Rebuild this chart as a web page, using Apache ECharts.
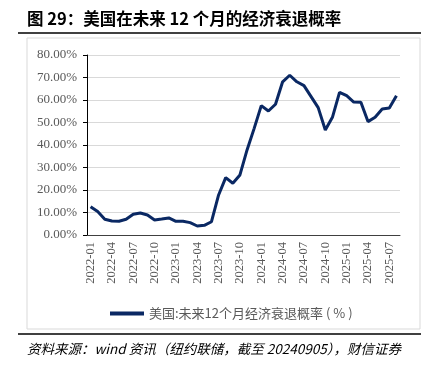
<!DOCTYPE html>
<html>
<head>
<meta charset="utf-8">
<script src="https://cdn.jsdelivr.net/npm/echarts@6/dist/echarts.min.js"></script>
<style>
html,body{margin:0;padding:0;background:#fff;}
#c{width:429px;height:371px;}
</style>
</head>
<body>
<div id="c"></div>
<script>
const titleText = '图 29：美国在未来 12 个月的经济衰退概率';
const sourceText = '资料来源：wind 资讯（纽约联储，截至 20240905），财信证券';
const seriesName = '美国:未来12个月经济衰退概率 ( % )';
const yTicks = [0, 10, 20, 30, 40, 50, 60, 70, 80];
const categories = [
 '2022-01','2022-02','2022-03','2022-04','2022-05','2022-06','2022-07','2022-08','2022-09','2022-10','2022-11','2022-12',
 '2023-01','2023-02','2023-03','2023-04','2023-05','2023-06','2023-07','2023-08','2023-09','2023-10','2023-11','2023-12',
 '2024-01','2024-02','2024-03','2024-04','2024-05','2024-06','2024-07','2024-08','2024-09','2024-10','2024-11','2024-12',
 '2025-01','2025-02','2025-03','2025-04','2025-05','2025-06','2025-07','2025-08'
];
const values = [
 12.6,10.4,7.0,6.2,6.1,7.0,9.2,9.8,8.9,6.7,7.1,7.6,
 6.1,6.1,5.5,4.0,4.3,5.9,17.8,25.5,23.0,26.7,37.8,47.4,
 57.5,55.1,58.1,68.1,71.0,68.1,66.4,61.5,56.6,46.7,52.3,63.4,
 61.9,59.1,59.0,50.4,52.3,56.0,56.4,61.9
];

const chart = echarts.init(document.getElementById('c'));
const serif = '"Liberation Serif","Times New Roman",serif';
chart.setOption({
  animation: false,
  backgroundColor: '#fff',
  graphic: [
    {type:'text', left: 27, top: 10, style:{text: titleText, font: 'bold 16.5px "Noto Sans CJK SC", serif', fill:'#000'}},
    {type:'line', shape:{x1:18,y1:33,x2:421,y2:33}, style:{stroke:'#000', lineWidth:1.5}},
    {type:'rect', shape:{x:27,y:38,width:393,height:291}, style:{fill:'none', stroke:'#d9d9d9', lineWidth:1}},
    {type:'line', shape:{x1:18,y1:334,x2:421,y2:334}, style:{stroke:'#000', lineWidth:1.5}},
    {type:'text', left: 27, top: 342, style:{text: sourceText, font: 'italic 13.5px "Noto Sans CJK SC", serif', fill:'#000'}}
  ],
  legend: {
    data: [seriesName],
    left: 105,
    top: 302,
    itemWidth: 34,
    itemHeight: 4,
    icon: 'rect',
    itemGap: 2,
    textStyle: {color:'#595959', fontSize: 13, fontFamily: '"Noto Sans CJK SC", sans-serif'}
  },
  grid: {left: 87, right: 29, top: 55, bottom: 136, containLabel: false},
  xAxis: {
    type: 'category',
    data: categories,
    boundaryGap: true,
    axisLine: {lineStyle:{color:'#404040', width:1}},
    axisTick: {interval: 2, length: 4, lineStyle:{color:'#404040'}},
    axisLabel: {interval: 2, rotate: 90, color:'#595959', fontSize: 12.5, fontFamily: serif, margin: 7}
  },
  yAxis: {
    type: 'value',
    min: 0, max: 80, interval: 10,
    axisLine: {show: true, lineStyle:{color:'#000', width:1}},
    axisTick: {show: true, length: 4, lineStyle:{color:'#000'}},
    splitLine: {lineStyle:{color:'#d9d9d9', width:1}},
    axisLabel: {color:'#595959', fontSize: 13, fontFamily: serif, margin: 10,
      formatter: v => v.toFixed(2) + '%'}
  },
  series: [{
    name: seriesName,
    type: 'line',
    data: values,
    symbol: 'none',
    smooth: false,
    lineStyle: {color:'#0a2863', width: 3},
    itemStyle: {color:'#0a2863'}
  }]
});
</script>
</body>
</html>
